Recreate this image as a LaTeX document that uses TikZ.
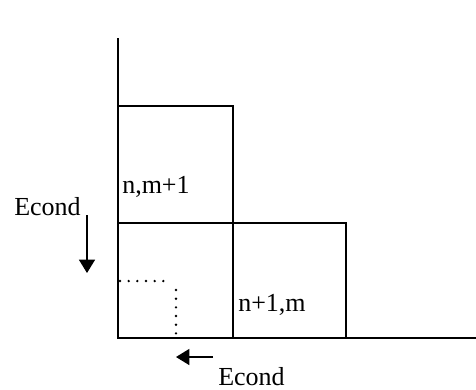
\documentclass[tikz,border=0pt]{standalone}
\usepackage{fontspec}
\setmainfont{Liberation Serif}
\usetikzlibrary{arrows.meta}

\begin{document}
\begin{tikzpicture}[x=0.75pt,y=-0.75pt,
    cell/.style={black, line width=0.9pt},
    dots/.style={line width=2pt, line cap=round, dash pattern=on 0pt off 6.5pt},
    lbl/.style={font=\fontsize{19.5}{22}\selectfont, inner sep=0pt},
    flux/.style={line width=1pt, -{Triangle[length=10pt,width=12pt]}}]
    \useasboundingbox (0,0) rectangle (476,390);
        % Axes.
        \draw[black, line width=1.2pt] (118,38) -- (118,338) -- (476,338);
        % The two cells.
        \draw[cell] (118,106) rectangle (233,223);
        \draw[cell] (118,223) -- (346,223) -- (346,338);
        \draw[cell] (233,223) -- (233,338);
        % Dotted corner.
            \draw[dots] (120,281) -- (168,281);
            \draw[dots] (176,290) -- (176,338);
        % Below nodes are the labels.
            \node[lbl, anchor=west] (upper) at (122,187) {n,m+1};
            \node[lbl, anchor=west] (lower) at (238,305) {n+1,m};
            \node[lbl, anchor=west] (econdL) at (14,207) {Econd};
            \node[lbl, anchor=west] (econdB) at (218,377) {Econd};
        % Arrows.
            \coordinate (downA) at (87,215);
            \coordinate (downB) at (87,273);
            \coordinate (leftA) at (213,357);
            \coordinate (leftB) at (176,357);
            \draw[flux] (downA) -- (downB);
            \draw[flux] (leftA) -- (leftB);
    \end{tikzpicture}
\end{document}
